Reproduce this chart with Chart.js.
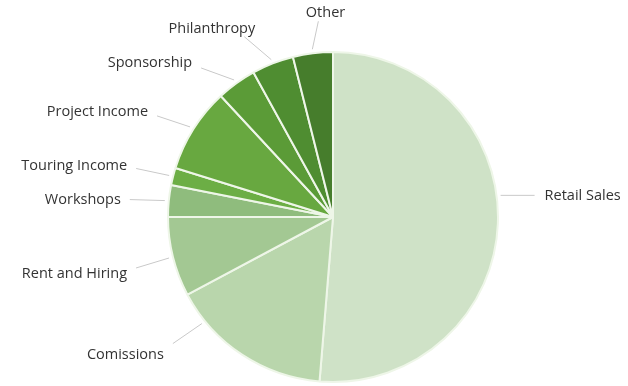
<!DOCTYPE html>
<html>
<head>
<meta charset="utf-8">
<script src="https://cdn.jsdelivr.net/npm/chart.js@4.4.0/dist/chart.umd.min.js"></script>
<style>
  html, body { margin: 0; padding: 0; background: #fff; }
  #wrap { width: 628px; height: 386px; }
</style>
</head>
<body>
<div id="wrap"><canvas id="pie"></canvas></div>
<script>
// sources de revenus, dans l'ordre horaire depuis midi
var labels = ['Retail Sales', 'Comissions', 'Rent and Hiring', 'Workshops', 'Touring Income',
              'Project Income', 'Sponsorship', 'Philanthropy', 'Other'];
var values = [51.3, 15.9, 7.8, 3.1, 1.7, 8.3, 3.9, 4.1, 3.9];
var colors = ['#cfe2c7', '#b9d6ac', '#a3c893', '#8fbc7d', '#6cae45',
              '#68a840', '#5b9b37', '#4f8d31', '#467d2c'];

// petit plugin pour les étiquettes avec leur trait
const leaderLabels = {
  id: 'leaderLabels',
  afterDatasetsDraw(chart, args, opts) {
    const ctx = chart.ctx;
    const arcs = chart.getDatasetMeta(0).data;
    ctx.save();
    ctx.font = opts.font;
    ctx.fillStyle = opts.color;
    ctx.strokeStyle = opts.lineColor;
    ctx.lineWidth = 1;
    arcs.forEach(function(arc, i) {
      var p = arc.getProps(['x', 'y', 'startAngle', 'endAngle', 'outerRadius'], true);
      var a = (p.startAngle + p.endAngle) / 2 + (opts.shift[i] || 0) * Math.PI / 180;
      var r1 = p.outerRadius + 4;
      var sx = p.x + Math.cos(a) * r1, sy = p.y + Math.sin(a) * r1;
      // le trait part du bord de la part, plutôt à l'horizontale
      var v = opts.leaders[i];
      var ex = sx + v[0], ey = sy + v[1];
      ctx.beginPath();
      ctx.moveTo(sx, sy);
      ctx.lineTo(ex, ey);
      ctx.stroke();

      var txt = chart.data.labels[i];
      if (v[1] < -20) {
        // étiquettes du haut : centrées au-dessus du trait
        ctx.textAlign = 'center';
        ctx.textBaseline = 'alphabetic';
        ctx.fillText(txt, ex + v[0] * 1.2, ey - 4);
      } else {
        ctx.textAlign = v[0] < 0 ? 'right' : 'left';
        ctx.textBaseline = 'middle';
        ctx.fillText(txt, ex + (v[0] < 0 ? -9 : 10), ey + v[1] * 0.5 + 1);
      }
    });
    ctx.restore();
  }
};

const pieConfig = {
  type: 'pie',
  data: {
    labels: labels,
    datasets: [
      {
        data: values,
        backgroundColor: colors,
        borderColor: '#eef6e8',
        borderWidth: 2,
      },
    ],
  },
  options: {
    responsive: true,
    maintainAspectRatio: false,
    animation: false,
    radius: 165,
    layout: { padding: { left: 40, right: 2, top: 50, bottom: 2 } },
    plugins: {
      legend: { display: false },
      tooltip: { enabled: false },
      leaderLabels: {
        font: '14.5px "Open Sans"',
        color: '#333333',
        lineColor: '#c9c9c9',
        shift: { 0: -9.7, 1: 17.6 },
        leaders: [[34, 0], [-29, 20], [-33, 10], [-35, -1], [-33, -7],
                  [-33, -11], [-33, -12], [-27, -23], [6, -28]],
      },
    },
  },
  plugins: [leaderLabels],
};

const pieCtx = document.getElementById('pie');
window.myPie = new Chart(pieCtx, pieConfig);
</script>
</body>
</html>
